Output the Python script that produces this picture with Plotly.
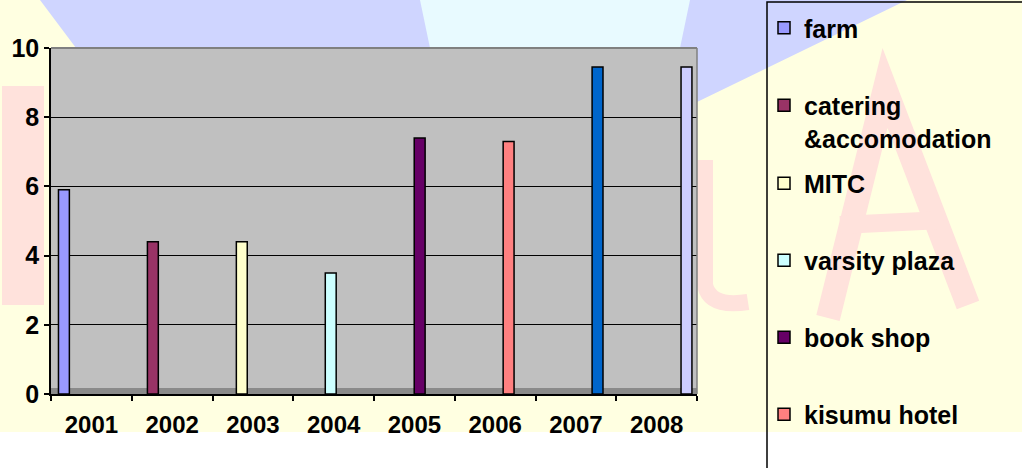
import plotly.graph_objects as go

# Annual revenue per business unit (one column per unit, one unit per year)
years = ["2001", "2002", "2003", "2004", "2005", "2006", "2007", "2008"]
units = ["farm", "catering<br>&accomodation", "MITC", "varsity plaza",
         "book shop", "kisumu hotel", "series 7", "series 8"]
revenue = [5.9, 4.4, 4.4, 3.5, 7.4, 7.3, 9.45, 9.45]
unit_colors = ["#9999FF", "#993366", "#FFFFCC", "#CCFFFF",
               "#660066", "#FF8080", "#0066CC", "#CCCCFF"]

# Canvas and plot-area geometry (pixels)
W, H = 1022, 468
L, R, T, B = 51, 325, 48, 74
PW, PH = W - L - R, H - T - B


def px(x):
    return (x - L) / PW


def py(y):
    return (H - B - y) / PH


FONT = dict(family="Arial, Liberation Sans, sans-serif", size=24,
            color="black", weight="bold")

# Clustered column layout: each unit owns a fixed slot inside every year
SLOT = 0.1014
BAR_W = 0.135
FIRST_CENTER = -0.34

fig = go.Figure()
legend_rows = [26.5, 104, 182, 259, 336, 413]
for i, (yr, name, val, col) in enumerate(zip(years, units, revenue, unit_colors)):
    shown = i < len(legend_rows)
    center = FIRST_CENTER + i * SLOT
    fig.add_trace(go.Bar(
        x=[yr], y=[val], name=name,
        width=BAR_W, offset=center - BAR_W / 2,
        marker=dict(color=col, line=dict(color="black", width=1.5)),
        showlegend=shown,
        legend=("legend" if i == 0 else f"legend{i + 1}") if shown else "legend",
    ))

legends = {}
for i, row in enumerate(legend_rows):
    key = "legend" if i == 0 else f"legend{i + 1}"
    legends[key] = dict(
        x=px(764), y=py(row - 21.5), xanchor="left", yanchor="top",
        bgcolor="rgba(0,0,0,0)", borderwidth=0,
        font=dict(FONT, size=25), valign="top",
    )

PINK = "#FFE2DC"
shapes = [
    # white strip along the bottom of the slide
    dict(type="rect", xref="paper", yref="paper", x0=px(-5), x1=px(W + 5),
         y0=py(H + 5), y1=py(432), fillcolor="white", line_width=0, layer="below"),
    # lavender sky band at the top
    dict(type="path", xref="paper", yref="paper", layer="below",
         path=f"M {px(40)},{py(0)} L {px(907)},{py(0)} L {px(767)},{py(68)} "
              f"L {px(697)},{py(102)} L {px(697)},{py(48)} L {px(76)},{py(48)} Z",
         fillcolor="#CFD5FF", line_width=0),
    dict(type="path", xref="paper", yref="paper", layer="below",
         path=f"M {px(420)},{py(0)} L {px(690)},{py(0)} L {px(680)},{py(48)} "
              f"L {px(430)},{py(48)} Z",
         fillcolor="#E8FAFF", line_width=0),
    # faint pink lettering in the background
    dict(type="rect", xref="paper", yref="paper", layer="below",
         x0=px(2), x1=px(44), y0=py(305), y1=py(86),
         fillcolor=PINK, line_width=0),
    dict(type="path", xref="paper", yref="paper", layer="below",
         path=f"M {px(828)},{py(318)} L {px(885)},{py(88)} L {px(968)},{py(305)}",
         line=dict(color=PINK, width=24)),
    dict(type="line", xref="paper", yref="paper", layer="below",
         x0=px(840), y0=py(225), x1=px(943), y1=py(220),
         line=dict(color=PINK, width=18)),
    dict(type="path", xref="paper", yref="paper", layer="below",
         path=f"M {px(705)},{py(160)} L {px(705)},{py(285)} "
              f"Q {px(710)},{py(308)} {px(748)},{py(302)}",
         line=dict(color=PINK, width=16)),
    # floor of the plot area
    dict(type="rect", xref="paper", yref="y", x0=0, x1=1, y0=0, y1=0.17,
         fillcolor="#8A8A8A", line_width=0, layer="below"),
    # back-wall edges
    dict(type="line", xref="paper", yref="paper", x0=0, x1=1, y0=1, y1=1,
         line=dict(color="#808080", width=2)),
    dict(type="line", xref="paper", yref="paper", x0=1, x1=1, y0=0, y1=1,
         line=dict(color="#808080", width=1.5)),
    # legend frame
    dict(type="rect", xref="paper", yref="paper",
         x0=px(767), x1=px(W + 20), y0=py(H + 20), y1=py(2),
         line=dict(color="black", width=1.5), fillcolor="rgba(0,0,0,0)"),
]

fig.update_layout(
    width=W, height=H,
    margin=dict(l=L, r=R, t=T, b=B, pad=0, autoexpand=False),
    paper_bgcolor="#FFFFE1",
    plot_bgcolor="#C0C0C0",
    barmode="overlay",
    showlegend=True,
    shapes=shapes,
    **legends,
)
fig.update_xaxes(
    type="category", categoryorder="array", categoryarray=years,
    range=[-0.5, 7.5], tickson="boundaries",
    ticks="outside", ticklen=5, tickwidth=1.5, tickcolor="black",
    showline=True, linecolor="black", linewidth=1.5,
    showgrid=False, tickfont=FONT, ticklabelstandoff=8,
)
fig.update_yaxes(
    range=[0, 10], dtick=2,
    ticks="outside", ticklen=5, tickwidth=1.5, tickcolor="black",
    showline=True, linecolor="black", linewidth=1.5,
    showgrid=True, gridcolor="black", gridwidth=1.2,
    zeroline=False, tickfont=dict(FONT, size=25),
)

fig.write_html("out.html")
